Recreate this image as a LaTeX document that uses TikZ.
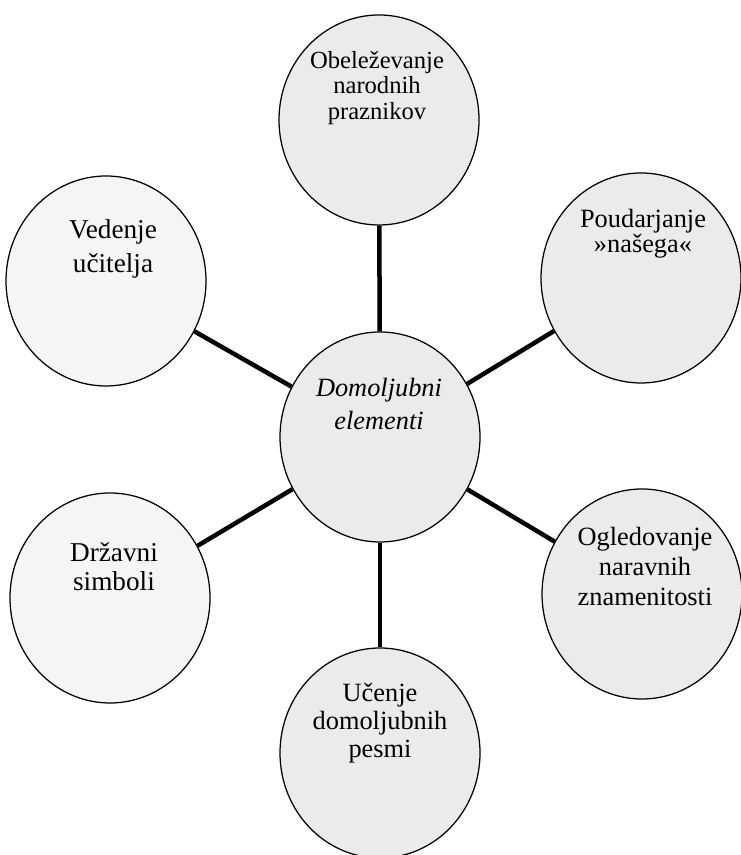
\documentclass[tikz,border=0pt]{standalone}
\usepackage{fontspec}
\setmainfont{Liberation Serif}
\usetikzlibrary{shapes.geometric}
\begin{document}
\begin{tikzpicture}[
    bubble/.style={draw, ellipse, line width=0.025cm, fill=black!8,
                   minimum width=4.0cm, minimum height=4.2cm, inner sep=0pt},
    palebubble/.style={bubble, fill=black!4},
    spoke/.style={line width=0.09cm},
    bubbletext/.style={align=center, inner sep=0pt}
  ]
  \useasboundingbox (0,0) rectangle (14.82,17.1);

  % Marking central ellipse
  \node [bubble] (domoljubni) at (7.60,8.36) {};
  \node [bubbletext, font=\itshape\fontsize{15}{19.3}\selectfont] (domoljubni text) at (7.58,9.02) {Domoljubni\\elementi};

  % Marking ellipse Obelezevanje
  \node [bubble] (obelezevanje) at (7.58,14.70) {};
  \node [bubbletext, font=\fontsize{14}{14.7}\selectfont] (obelezevanje text) at (7.54,15.34) {Obeleževanje\\narodnih\\praznikov};

  % Marking ellipse Vedenje
  \node [palebubble] (vedenje) at (2.12,11.48) {};
  \node [bubbletext, font=\fontsize{15.5}{19.3}\selectfont] (vedenje text) at (2.26,12.12) {Vedenje\\učitelja};

  % Marking ellipse Poudarjanje
  \node [bubble] (poudarjanje) at (12.82,11.54) {};
  \node [bubbletext, font=\fontsize{15}{14.2}\selectfont] (poudarjanje text) at (12.86,12.43) {Poudarjanje\\»našega«};

  % Marking ellipse Drzavni
  \node [palebubble] (drzavni) at (2.20,5.14) {};
  \node [bubbletext, font=\fontsize{15.5}{16.5}\selectfont] (drzavni text) at (2.28,5.77) {Državni\\simboli};

  % Marking ellipse Ogledovanje
  \node [bubble] (ogledovanje) at (12.84,5.22) {};
  \node [bubbletext, font=\fontsize{15}{17}\selectfont] (ogledovanje text) at (12.90,5.77) {Ogledovanje\\naravnih\\znamenitosti};

  % Marking ellipse Ucenje
  \node [bubble] (ucenje) at (7.60,2.04) {};
  \node [bubbletext, font=\fontsize{15}{15.9}\selectfont] (ucenje text) at (7.60,2.63) {Učenje\\domoljubnih\\pesmi};

  % Drawing spokes
  \draw [spoke] (domoljubni) -- (obelezevanje);
  \draw [spoke] (domoljubni) -- (vedenje);
  \draw [spoke] (domoljubni) -- (poudarjanje);
  \draw [spoke] (domoljubni) -- (drzavni);
  \draw [spoke] (domoljubni) -- (ogledovanje);
  \draw [spoke] (domoljubni) -- (ucenje);
\end{tikzpicture}
\end{document}
